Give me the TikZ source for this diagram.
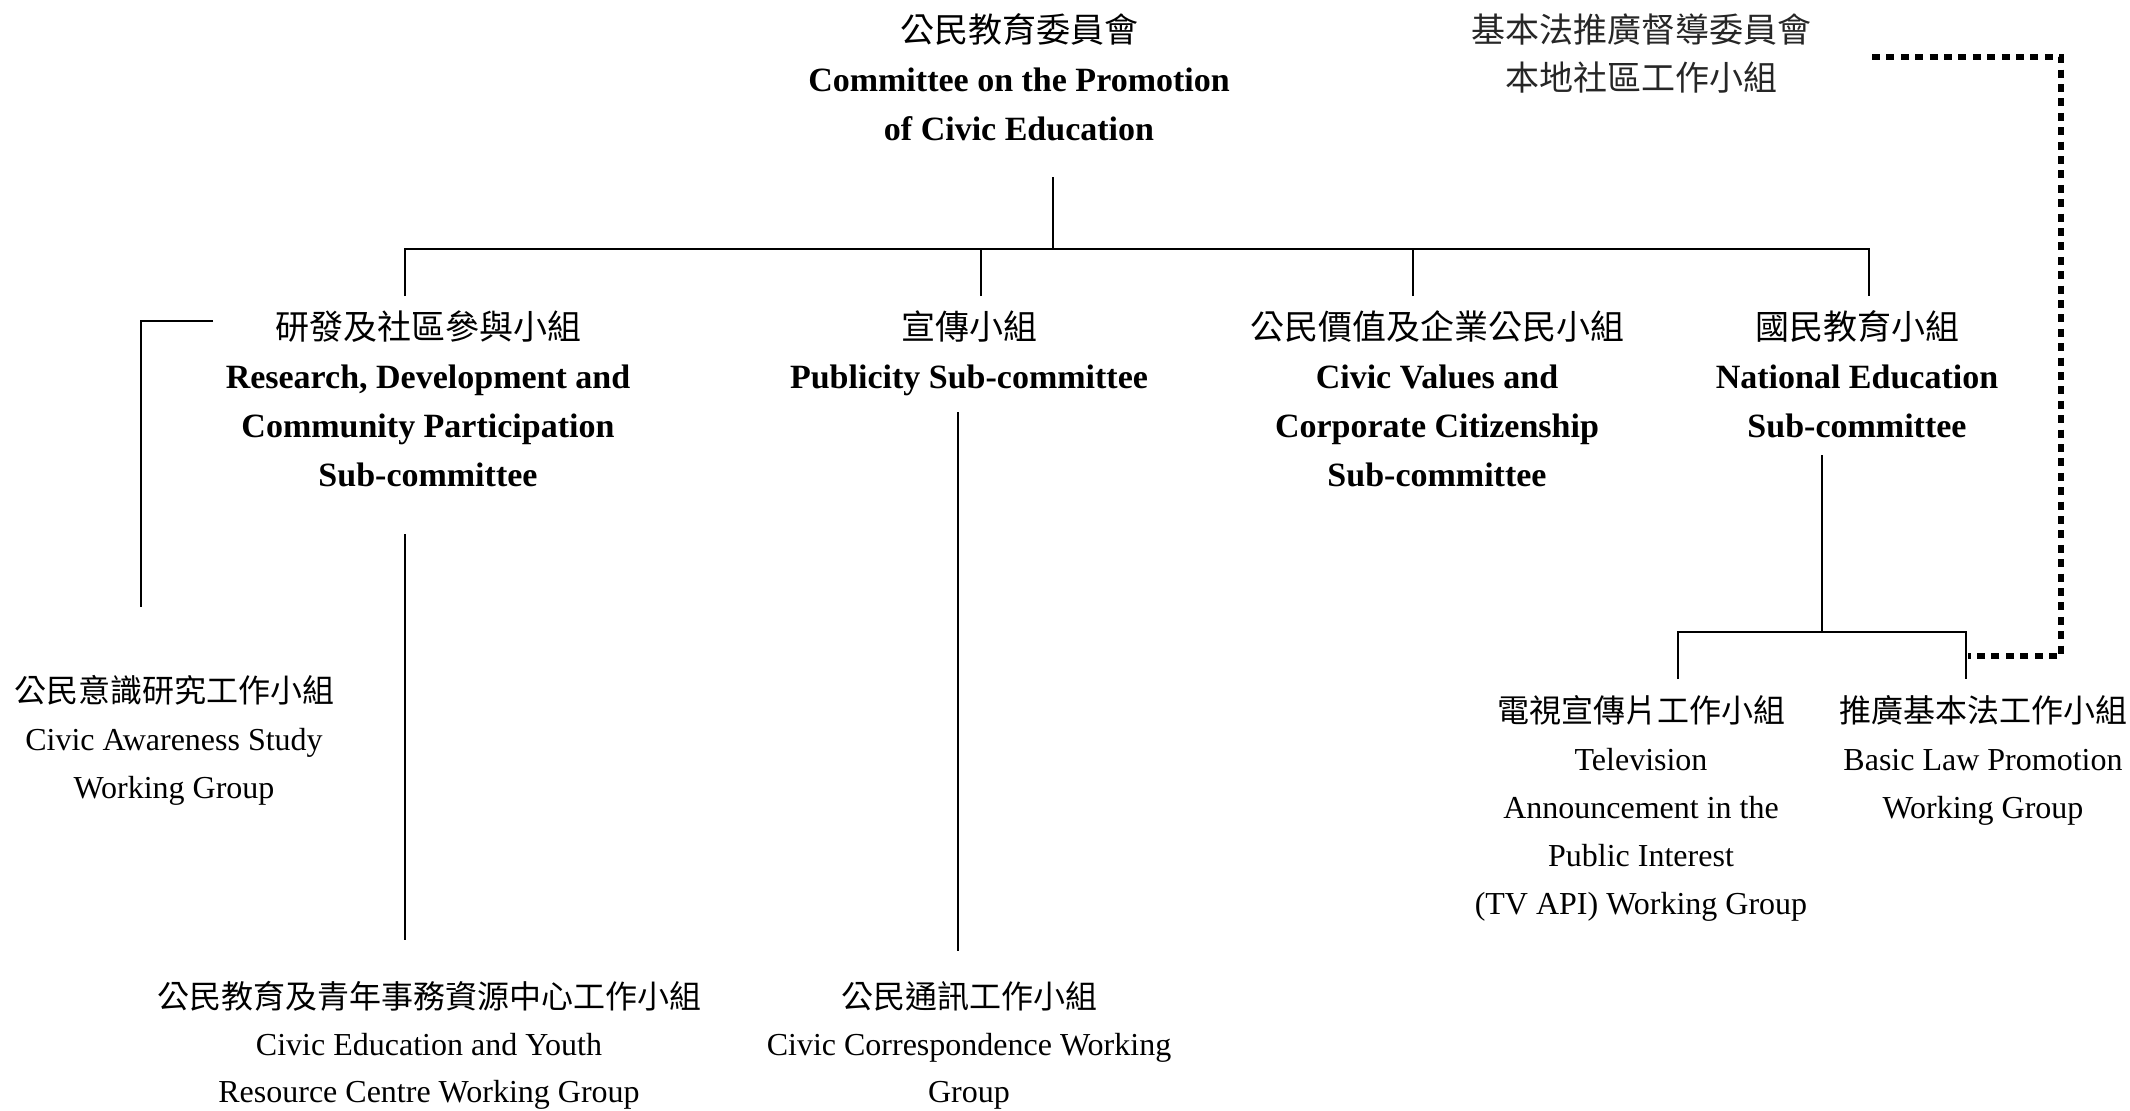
\documentclass[tikz,border=0pt]{standalone}
\usepackage{fontspec}
\setmainfont{Liberation Serif}
\newfontfamily\cjk{Noto Sans CJK TC}
\newcommand{\zh}[1]{{\cjk\mdseries #1}}
\begin{document}
\begin{tikzpicture}[x=0.5pt,y=-0.5pt,
  conn/.style={line width=1pt},
  dotline/.style={line width=3pt, dash pattern=on 4pt off 3.2pt},
  bigbox/.style={anchor=base, align=center, inner sep=0pt, font=\bfseries\fontsize{17}{24.5}\selectfont},
  smallbox/.style={anchor=base, align=center, inner sep=0pt, font=\fontsize{16}{24}\selectfont},
  lowbox/.style={smallbox, font=\fontsize{16}{23.5}\selectfont},
  toptext/.style={anchor=base, align=center, inner sep=0pt, text=black!85, font=\fontsize{17}{24}\selectfont}]
\useasboundingbox (0,0) rectangle (2130,1110);

% nodes (positioned at the baseline of their last line)
\node[bigbox] (top) at (1019,140) {\zh{公民教育委員會}\\Committee on the Promotion\\of Civic Education};
\node[toptext] (blsc) at (1641,90) {\zh{基本法推廣督導委員會}\\\zh{本地社區工作小組}};
\node[bigbox] (rd) at (428,486) {\zh{研發及社區參與小組}\\Research, Development and\\Community Participation\\Sub-committee};
\node[bigbox] (pub) at (969,388) {\zh{宣傳小組}\\Publicity Sub-committee};
\node[bigbox] (cv) at (1437,486) {\zh{公民價值及企業公民小組}\\Civic Values and\\Corporate Citizenship\\Sub-committee};
\node[bigbox] (ne) at (1857,437) {\zh{國民教育小組}\\National Education\\Sub-committee};
\node[smallbox] (cas) at (174,798) {\zh{公民意識研究工作小組}\\Civic Awareness Study\\Working Group};
\node[lowbox] (ceyr) at (429,1102) {\zh{公民教育及青年事務資源中心工作小組}\\Civic Education and Youth\\Resource Centre Working Group};
\node[lowbox] (cc) at (969,1102) {\zh{公民通訊工作小組}\\Civic Correspondence Working\\Group};
\node[smallbox] (tv) at (1641,914) {\zh{電視宣傳片工作小組}\\Television\\Announcement in the\\Public Interest\\(TV API) Working Group};
\node[smallbox] (blp) at (1983,818) {\zh{推廣基本法工作小組}\\Basic Law Promotion\\Working Group};

% connector end points
\coordinate (topb) at (1053,177);
\coordinate (bus) at (1053,249);
\coordinate (rdt) at (405,296);
\coordinate (pubt) at (981,296);
\coordinate (cvt) at (1413,296);
\coordinate (net) at (1869,296);
\coordinate (rdh) at (213,321);
\coordinate (cast) at (141,607);
\coordinate (rdb) at (405,534);
\coordinate (ceyrt) at (405,940);
\coordinate (pubb) at (958,412);
\coordinate (cct) at (958,951);
\coordinate (neb) at (1822,455);
\coordinate (nebus) at (1822,632);
\coordinate (tvt) at (1678,679);
\coordinate (blpt) at (1966,679);
\coordinate (blsce) at (1872,57);
\coordinate (blpe) at (1968,656);
\coordinate (dcorner1) at (2061,57);

% connectors
\draw[conn] (topb) -- (bus);
\draw[conn] (rdt) |- (bus) -| (net);
\draw[conn] (pubt) -- (pubt |- bus);
\draw[conn] (cvt) -- (cvt |- bus);
\draw[conn] (rdh) -| (cast);
\draw[conn] (rdb) -- (ceyrt);
\draw[conn] (pubb) -- (cct);
\draw[conn] (neb) -- (nebus);
\draw[conn] (tvt) |- (nebus) -| (blpt);
\draw[dotline] (blsce) -- (dcorner1) |- (blpe);
\end{tikzpicture}
\end{document}
